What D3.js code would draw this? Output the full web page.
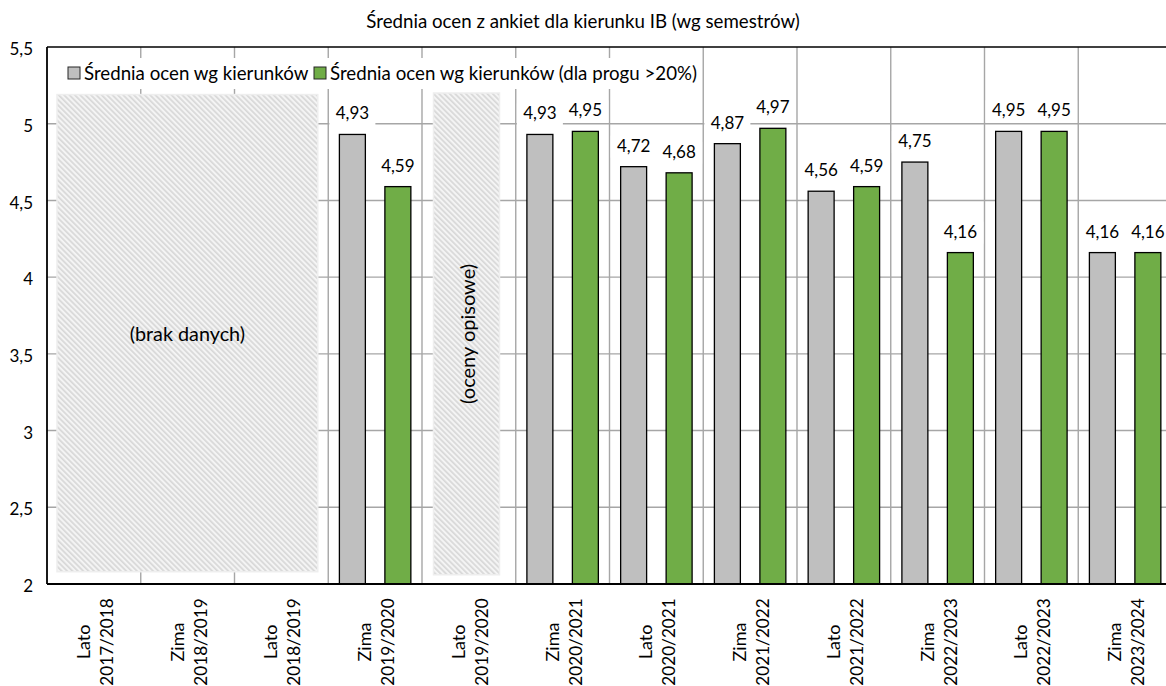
<!DOCTYPE html>
<html><head><meta charset="utf-8">
<script src="https://cdn.jsdelivr.net/npm/d3@7"></script>
<style>
html,body{margin:0;padding:0;background:#fff;overflow:hidden}
text{font-family:Lato,"Open Sans",sans-serif;fill:#000}
</style></head>
<body>
<svg id="chart" width="1166" height="686"></svg>
<script>
// ---- data ----
const semesters = ["Lato","Zima","Lato","Zima","Lato","Zima","Lato","Zima","Lato","Zima","Lato","Zima"];
const years = ["2017/2018","2018/2019","2018/2019","2019/2020","2019/2020","2020/2021","2020/2021","2021/2022","2021/2022","2022/2023","2022/2023","2023/2024"];
const seriesNames = ["Średnia ocen wg kierunków","Średnia ocen wg kierunków (dla progu >20%)"];
const seriesColors = ["#bfbfbf","#70ad47"];
const avgAll   = [null,null,null,4.93,null,4.93,4.72,4.87,4.56,4.75,4.95,4.16];
const avgAbove = [null,null,null,4.59,null,4.95,4.68,4.97,4.59,4.16,4.95,4.16];
const yTicks = [2,2.5,3,3.5,4,4.5,5,5.5];
const title = "Średnia ocen z ankiet dla kierunku IB (wg semestrów)";
// annotation boxes: first/last category index, value span, label, rotated
const notes = [
  {from:0, to:2, top:5.19, bottom:2.08, label:"(brak danych)", rotate:false},
  {from:4, to:4, top:5.2, bottom:2.06, label:"(oceny opisowe)", rotate:true}
];

// ---- layout ----
const svg = d3.select("#chart");
const L = 47, T = 47, B = 584, R = 1172;
const idx = d3.range(semesters.length);
const x = d3.scaleBand().domain(idx).range([L, R]).paddingInner(0).paddingOuter(0);
const x1 = d3.scaleBand().domain([0,1]).range([0, x.bandwidth()]).paddingInner(0.429).paddingOuter(0.245);
const y = d3.scaleLinear().domain([2, 5.5]).range([B, T]);
const fmt = v => d3.format(".2f")(v).replace(".", ",");
const fmtTick = v => String(v).replace(".", ",");

// hatch pattern
const defs = svg.append("defs");
const pat = defs.append("pattern").attr("id","hatch").attr("patternUnits","userSpaceOnUse")
  .attr("width",3.8).attr("height",3.8).attr("patternTransform","rotate(-45)");
pat.append("rect").attr("width",3.8).attr("height",3.8).attr("fill","#f4f4f4");
pat.append("rect").attr("x",0).attr("width",1.7).attr("height",3.8).attr("fill","#d8d8d8");

// title
svg.append("text").attr("x",583).attr("y",28).attr("text-anchor","middle")
  .style("font-size","18.7px").text(title);

// horizontal gridlines
svg.append("g").selectAll("line").data(yTicks.filter(t => t > 2 && t < 5.5)).join("line")
  .attr("x1",L).attr("x2",R).attr("y1",d=>y(d)).attr("y2",d=>y(d))
  .attr("stroke","#a6a6a6").attr("stroke-width",1.4);
// vertical gridlines at category boundaries
svg.append("g").selectAll("line").data(idx.slice(1)).join("line")
  .attr("x1",d=>x(d)).attr("x2",d=>x(d)).attr("y1",T).attr("y2",B)
  .attr("stroke","#a6a6a6").attr("stroke-width",1.4);

// annotation boxes
const ng = svg.append("g");
notes.forEach(n => {
  const x0 = x(n.from) + (n.rotate ? 11.5 : 10);
  const xEnd = n.rotate ? x(n.to) + 77.5 : x(n.to) + x.bandwidth() - 10.5;
  ng.append("rect").attr("x",x0).attr("y",y(n.top)).attr("width",xEnd-x0).attr("height",y(n.bottom)-y(n.top))
    .attr("fill","url(#hatch)").attr("stroke","#eeeeee").attr("stroke-width",1.5);
  const cx = (x0+xEnd)/2, cy = (y(n.top)+y(n.bottom))/2;
  const t = ng.append("text").attr("text-anchor","middle").attr("dominant-baseline","central")
    .style("font-size", n.rotate ? "20px" : "19.8px").text(n.label);
  if (n.rotate) t.attr("transform",`translate(${cx},${cy}) rotate(-90)`);
  else t.attr("x",cx).attr("y",cy);
});

// legend
const lg = svg.append("g");
lg.append("rect").attr("x",50).attr("y",58).attr("width",652).attr("height",31).attr("fill","#fff");
const legX = [68, 314];
seriesNames.forEach((s,i) => {
  lg.append("rect").attr("x",legX[i]).attr("y",67).attr("width",12).attr("height",12)
    .attr("fill",seriesColors[i]).attr("stroke","#262626").attr("stroke-width",1);
  lg.append("text").attr("x",legX[i]+16).attr("y",79.5).style("font-size","18.7px").text(s);
});

// bars
const series = [avgAll, avgAbove];
const bg = svg.append("g");
series.forEach((vals,si) => {
  const data = idx.filter(i => vals[i] != null).map(i => ({i, v: vals[i]}));
  bg.selectAll(null).data(data).join("rect")
    .attr("x",d => x(d.i) + x1(si)).attr("width",x1.bandwidth())
    .attr("y",d => y(d.v)).attr("height",d => B - y(d.v))
    .attr("fill",seriesColors[si]).attr("stroke","#000").attr("stroke-width",1.3);
});
// value labels
series.forEach((vals,si) => {
  const data = idx.filter(i => vals[i] != null).map(i => ({i, v: vals[i]}));
  const g = svg.append("g").selectAll(null).data(data).join("g")
    .attr("transform",d => `translate(${x(d.i)+x1(si)+x1.bandwidth()/2},${y(d.v)-15})`);
  g.append("rect").attr("x",-23).attr("y",-16).attr("width",46).attr("height",22).attr("fill","#fff");
  g.append("text").attr("text-anchor","middle").style("font-size","17px").text(d => fmt(d.v));
});

// axes lines
svg.append("line").attr("x1",L).attr("x2",R).attr("y1",T).attr("y2",T).attr("stroke","#000").attr("stroke-width",1.6);
svg.append("line").attr("x1",L).attr("x2",L).attr("y1",T).attr("y2",B).attr("stroke","#000").attr("stroke-width",1.8);
svg.append("line").attr("x1",L).attr("x2",R).attr("y1",B).attr("y2",B).attr("stroke","#000").attr("stroke-width",1.8);

// y labels
const yAxis = d3.axisLeft(y).tickValues(yTicks).tickFormat(fmtTick).tickSize(0).tickPadding(14);
const ya = svg.append("g").attr("transform",`translate(${L},0)`).call(yAxis);
ya.select(".domain").remove();
ya.selectAll("text").style("font-size","17px").style("font-family","Lato").attr("fill","#000").attr("dy","0.45em");

// x labels
const xl = svg.append("g").selectAll("text").data(idx).join("text")
  .attr("transform",i => `translate(${x(i)+x.bandwidth()/2},642) rotate(-90)`)
  .attr("text-anchor","middle");
xl.append("tspan").attr("x",0).attr("y",-4).style("font-size","18px").text(i => semesters[i]);
xl.append("tspan").attr("x",0).attr("y",19).style("font-size","17.2px").text(i => years[i]);
</script>
</body></html>
